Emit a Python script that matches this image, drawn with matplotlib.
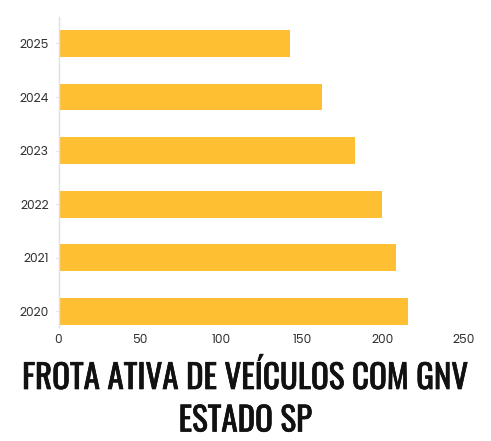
import matplotlib
matplotlib.use("Agg")
import matplotlib.pyplot as plt
from matplotlib import font_manager
import matplotlib.patheffects as pe

years = ["2020", "2021", "2022", "2023", "2024", "2025"]
values = [215.5, 208, 199.5, 182.6, 162.4, 142.7]
xticks = [0, 50, 100, 150, 200, 250]
title_lines = ["FROTA ATIVA DE VEÍCULOS COM GNV", "ESTADO SP"]

names = {f.name for f in font_manager.fontManager.ttflist}
title_font = "DejaVu Sans"
for cand in ["Oswald", "Fjalla One", "Bebas Neue", "Liberation Sans Narrow"]:
    if cand in names:
        title_font = cand
        break
tick_font = "Poppins" if "Poppins" in names else "Open Sans"

W, H = 491, 441
fig = plt.figure(figsize=(W / 100, H / 100), dpi=100)
ax = fig.add_axes([58.5 / W, (H - 327) / H, (464 - 58.5) / W, (327 - 16.7) / H])

ax.barh(range(len(years)), values, height=0.5, color="#FEBF32")
ax.set_xlim(0, 250)
ax.set_ylim(-0.29, 5.5)
ax.set_yticks(range(len(years)))
ax.set_yticklabels(years, fontsize=8.8, color="#333333", family=tick_font)
ax.set_xticks(xticks)
ax.set_xticklabels([str(t) for t in xticks], fontsize=8.8, color="#333333", family=tick_font)
ax.tick_params(axis="x", length=0, pad=5)
ax.tick_params(axis="y", length=3, color="#e6e6e6", pad=4)
for s in ["top", "right", "bottom"]:
    ax.spines[s].set_visible(False)
ax.spines["left"].set_color("#e0e0e0")
ax.spines["left"].set_linewidth(1)

effects = [pe.withStroke(linewidth=0.5, foreground="#111111")]
fig.text(0.5, 1 - 389 / H, title_lines[0], ha="center", va="baseline",
         fontsize=23.8, family=title_font, color="#111111", path_effects=effects)
fig.text(0.5, 1 - 431.5 / H, title_lines[1], ha="center", va="baseline",
         fontsize=23.8, family=title_font, color="#111111", path_effects=effects)

fig.savefig("out.png", dpi=100)
